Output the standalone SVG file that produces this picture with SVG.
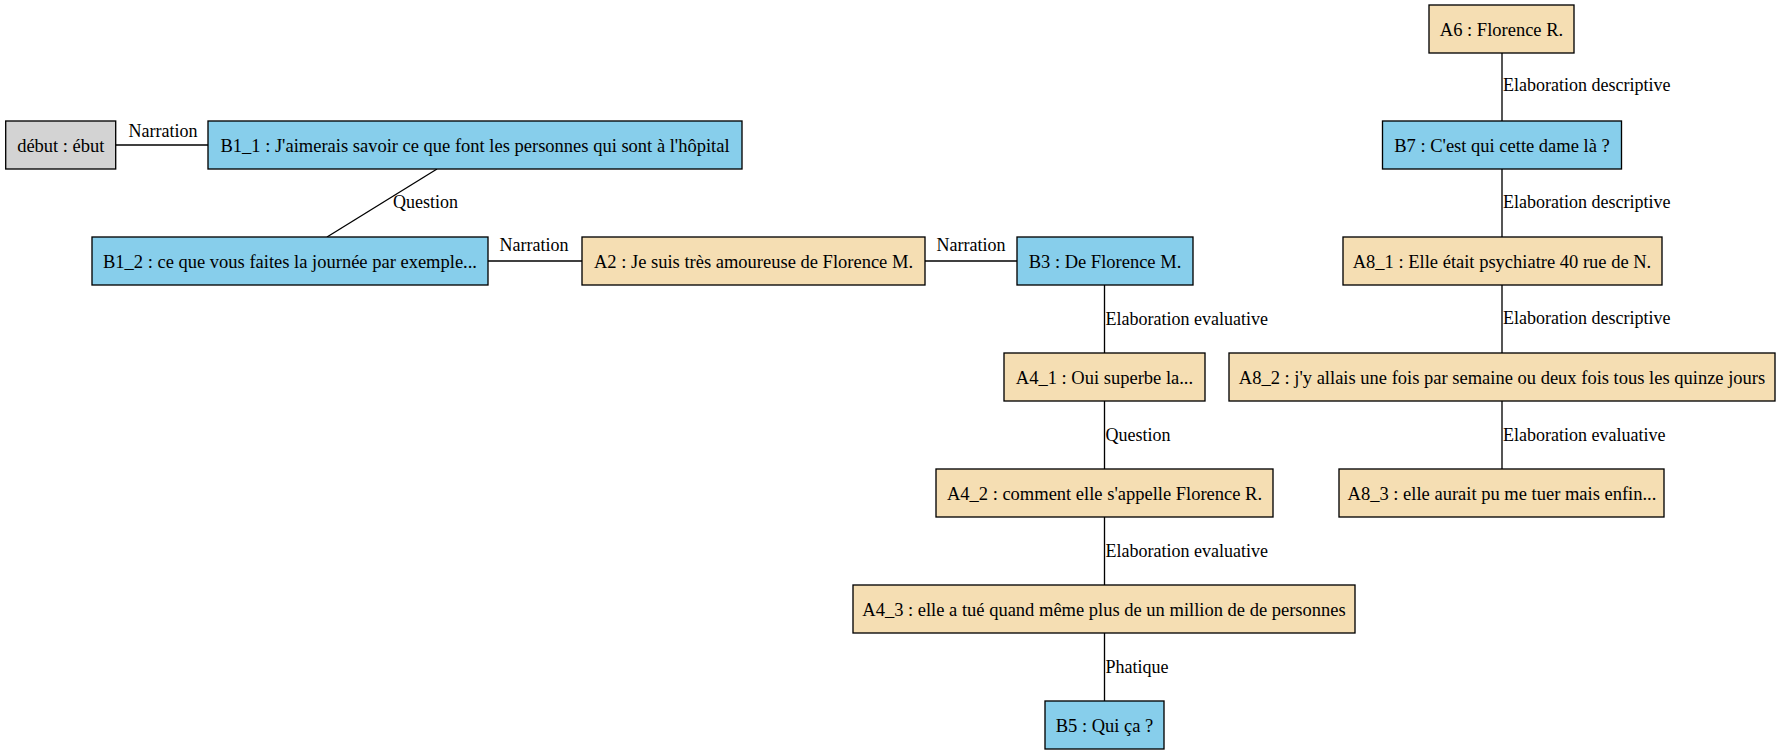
<svg xmlns="http://www.w3.org/2000/svg" width="1781" height="755" viewBox="0 0 1781 755">
<style>
text{font-family:"Liberation Serif","Times New Roman",serif;font-size:18px;fill:#000}
.n text{text-anchor:middle;font-size:18.5px}
.n rect{stroke:#000;stroke-width:1.33}
.g{fill:#d3d3d3}.b{fill:#87ceeb}.w{fill:#f5deb3}
#edges line{stroke:#000;stroke-width:1.33}
</style>
<rect width="1781" height="755" fill="#fff"/>
<g id="edges">
<line x1="116" y1="145" x2="208" y2="145"/>
<text x="163" y="137" text-anchor="middle">Narration</text>
<line x1="437" y1="169" x2="327" y2="237"/>
<text x="393" y="208">Question</text>
<line x1="488" y1="261" x2="582" y2="261"/>
<text x="534" y="251" text-anchor="middle">Narration</text>
<line x1="925" y1="261" x2="1017" y2="261"/>
<text x="971" y="251" text-anchor="middle">Narration</text>
<line x1="1104.5" y1="285" x2="1104.5" y2="353"/>
<text x="1105.5" y="325">Elaboration evaluative</text>
<line x1="1104.5" y1="401" x2="1104.5" y2="469"/>
<text x="1105.5" y="441">Question</text>
<line x1="1104.5" y1="517" x2="1104.5" y2="585"/>
<text x="1105.5" y="557">Elaboration evaluative</text>
<line x1="1104.5" y1="633" x2="1104.5" y2="701"/>
<text x="1105.5" y="673">Phatique</text>
<line x1="1502" y1="53" x2="1502" y2="121"/>
<text x="1503" y="91">Elaboration descriptive</text>
<line x1="1502" y1="169" x2="1502" y2="237"/>
<text x="1503" y="208">Elaboration descriptive</text>
<line x1="1502" y1="285" x2="1502" y2="353"/>
<text x="1503" y="324">Elaboration descriptive</text>
<line x1="1502" y1="401" x2="1502" y2="469"/>
<text x="1503" y="441">Elaboration evaluative</text>
</g>
<g class="n" id="debut"><rect class="g" x="5.7" y="121" width="110" height="48"/><text x="60.8" y="151.5">début : ébut</text></g>
<g class="n" id="B1_1"><rect class="b" x="208" y="121" width="534" height="48"/><text x="475" y="151.5">B1_1 : J'aimerais savoir ce que font les personnes qui sont à l'hôpital</text></g>
<g class="n" id="B1_2"><rect class="b" x="92" y="237" width="396" height="48"/><text x="290" y="267.5">B1_2 : ce que vous faites la journée par exemple...</text></g>
<g class="n" id="A2"><rect class="w" x="582" y="237" width="343" height="48"/><text x="753.5" y="267.5">A2 : Je suis très amoureuse de Florence M.</text></g>
<g class="n" id="B3"><rect class="b" x="1017" y="237" width="176" height="48"/><text x="1105" y="267.5">B3 : De Florence M.</text></g>
<g class="n" id="A4_1"><rect class="w" x="1004" y="353" width="201" height="48"/><text x="1104.5" y="383.5">A4_1 : Oui superbe la...</text></g>
<g class="n" id="A4_2"><rect class="w" x="936" y="469" width="337" height="48"/><text x="1104.5" y="499.5">A4_2 : comment elle s'appelle Florence R.</text></g>
<g class="n" id="A4_3"><rect class="w" x="853" y="585" width="502" height="48"/><text x="1104" y="615.5">A4_3 : elle a tué quand même plus de un million de de personnes</text></g>
<g class="n" id="B5"><rect class="b" x="1045" y="701" width="119" height="48"/><text x="1104.5" y="731.5">B5 : Qui ça ?</text></g>
<g class="n" id="A6"><rect class="w" x="1429" y="5" width="145" height="48"/><text x="1501.5" y="35.5">A6 : Florence R.</text></g>
<g class="n" id="B7"><rect class="b" x="1382.5" y="121" width="239" height="48"/><text x="1502" y="151.5">B7 : C'est qui cette dame là ?</text></g>
<g class="n" id="A8_1"><rect class="w" x="1343" y="237" width="319" height="48"/><text x="1502" y="267.5">A8_1 : Elle était psychiatre 40 rue de N.</text></g>
<g class="n" id="A8_2"><rect class="w" x="1229" y="353" width="546" height="48"/><text x="1502" y="383.5">A8_2 : j'y allais une fois par semaine ou deux fois tous les quinze jours</text></g>
<g class="n" id="A8_3"><rect class="w" x="1339" y="469" width="325" height="48"/><text x="1502" y="499.5">A8_3 : elle aurait pu me tuer mais enfin...</text></g>
</svg>
